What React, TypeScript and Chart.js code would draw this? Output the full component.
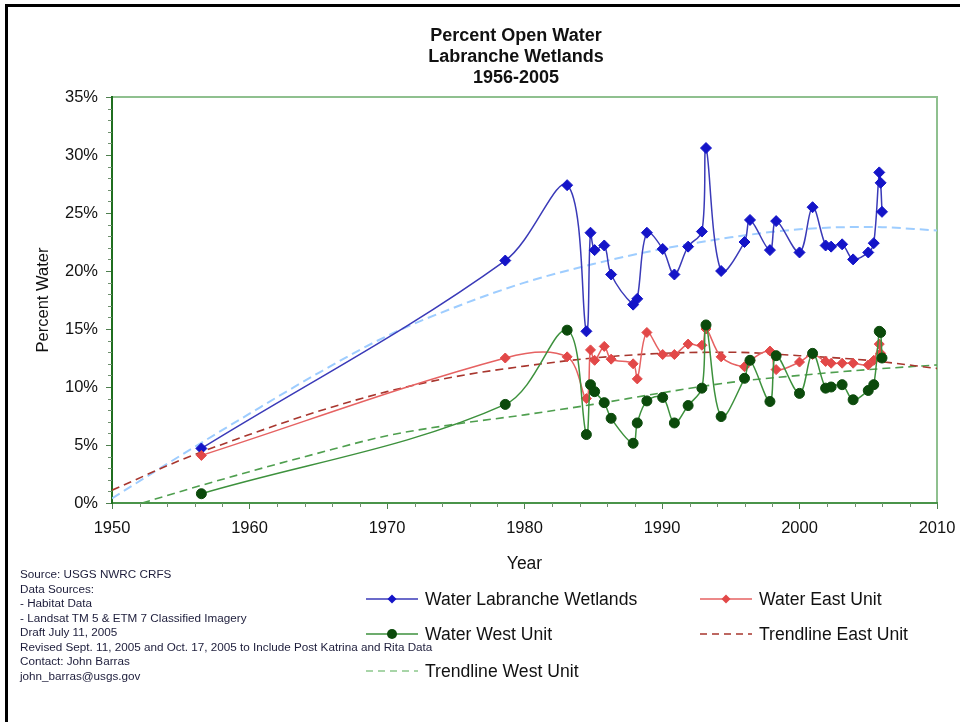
import React, { useEffect, useRef } from 'react';
import { Chart, registerables } from 'chart.js';

Chart.register(...registerables);

const FONT = '"Liberation Sans", Arial, Helvetica, sans-serif';

// Survey dates (decimal years) shared by the three measured series
const years = [1956.5, 1978.6, 1983.1, 1984.5, 1984.8, 1985.1, 1985.8, 1986.3, 1987.9, 1988.2, 1988.9, 1990.05, 1990.9, 1991.9, 1992.9, 1993.2, 1994.3, 1996.0, 1996.4, 1997.85, 1998.3, 2000.0, 2000.95, 2001.9, 2002.3, 2003.1, 2003.9, 2005.0, 2005.4, 2005.8, 2005.9, 2006.0];
const labranche = [4.7, 20.9, 27.4, 14.8, 23.3, 21.8, 22.2, 19.7, 17.1, 17.6, 23.3, 21.9, 19.7, 22.1, 23.4, 30.6, 20.0, 22.5, 24.4, 21.8, 24.3, 21.6, 25.5, 22.2, 22.1, 22.3, 21.0, 21.6, 22.4, 28.5, 27.6, 25.1];
const eastUnit = [4.1, 12.5, 12.6, 9.0, 13.2, 12.3, 13.5, 12.4, 12.0, 10.7, 14.7, 12.8, 12.8, 13.7, 13.6, 15.0, 12.6, 11.75, 12.3, 13.1, 11.5, 12.15, 12.8, 12.2, 12.05, 12.05, 12.05, 11.9, 12.3, 13.7, 12.9, 12.5];
const westUnit = [0.8, 8.5, 14.9, 5.9, 10.2, 9.6, 8.65, 7.3, 5.15, 6.9, 8.8, 9.1, 6.9, 8.4, 9.9, 15.35, 7.45, 10.75, 12.3, 8.75, 12.7, 9.45, 12.9, 9.9, 10.0, 10.2, 8.9, 9.7, 10.2, 14.8, 14.7, 12.5];

// Trendlines
const trendYears = [1950, 1955, 1960, 1965, 1970, 1975, 1980, 1985, 1990, 1995, 2000, 2005, 2010];
const labrancheTrend = [0.4, 4.1, 7.7, 11.2, 14.4, 16.9, 19.0, 20.6, 21.9, 22.9, 23.6, 23.8, 23.5];
const eastTrend = [1.1, 3.7, 5.9, 7.9, 9.6, 10.9, 11.8, 12.5, 12.9, 13.0, 12.7, 12.3, 11.6];
const westTrendYears = [1952.2, 1955, 1960, 1965, 1970, 1975, 1980, 1985, 1990, 1995, 2000, 2005, 2010];
const westTrend = [0, 1.0, 2.7, 4.3, 5.8, 6.8, 7.6, 8.5, 9.5, 10.4, 11.0, 11.5, 11.9];

const xTicks = [1950, 1960, 1970, 1980, 1990, 2000, 2010];
const yTicks = [0, 5, 10, 15, 20, 25, 30, 35];

const titleLines = ['Percent Open Water', 'Labranche Wetlands', '1956-2005'];
const sourceLines = [
  'Source: USGS NWRC CRFS',
  'Data Sources:',
  '- Habitat Data',
  '- Landsat TM 5 & ETM 7 Classified Imagery',
  'Draft July 11, 2005',
  'Revised Sept. 11, 2005 and Oct. 17, 2005  to Include Post Katrina and Rita Data',
  'Contact: John Barras',
  'john_barras@usgs.gov',
];

const C = {
  blueLine: '#3a3ab8',
  blueMark: '#1414c8',
  redLine: '#e66262',
  redMark: '#e24848',
  greenLine: '#3d913d',
  greenMark: '#0b4a0b',
  eastTrend: '#a8362e',
  westTrend: '#4f9f4f',
  westTrendLegend: '#8cc78c',
  blueTrend: '#9ecdff',
};

function LegendItem({ left, top, label, color, marker, dashed, markColor }: any) {
  return (
    <div style={{ position: 'absolute', left, top: top - 11, height: 22, display: 'flex', alignItems: 'center' }}>
      <svg width={54} height={14} style={{ display: 'block' }}>
        <line x1={0} y1={7} x2={52} y2={7} stroke={color} strokeWidth={1.6} strokeDasharray={dashed ? '7 5' : undefined} />
        {marker === 'diamond' && <polygon points="26,2.5 30.5,7 26,11.5 21.5,7" fill={markColor} />}
        {marker === 'circle' && <circle cx={26} cy={7} r={5} fill={markColor} />}
      </svg>
      <span style={{ marginLeft: 5, font: `17.6px ${FONT}`, color: '#111', whiteSpace: 'nowrap' }}>{label}</span>
    </div>
  );
}

export default function App() {
  const ref = useRef<HTMLCanvasElement>(null);

  useEffect(() => {
    const canvas = ref.current;
    if (!canvas) return;
    const pts = (xs: number[], ys: number[]) => xs.map((x, i) => ({ x, y: ys[i] }));

    const framePlugin = {
      id: 'frame',
      beforeDraw(chart: any) {
        const { ctx, chartArea: a } = chart;
        ctx.save();
        ctx.strokeStyle = '#8fc08f';
        ctx.lineWidth = 2;
        ctx.strokeRect(a.left, a.top, a.right - a.left, a.bottom - a.top);
        ctx.restore();
      },
      afterDraw(chart: any) {
        const { ctx, chartArea: a, scales } = chart;
        ctx.save();
        ctx.strokeStyle = '#6f8f6f';
        ctx.lineWidth = 1;
        for (let v = 1; v < 35; v++) {
          if (v % 5 === 0) continue;
          const y = Math.round(scales.y.getPixelForValue(v)) + 0.5;
          ctx.beginPath();
          ctx.moveTo(a.left - 4, y);
          ctx.lineTo(a.left, y);
          ctx.stroke();
        }
        for (let v = 1952; v < 2010; v += 2) {
          if (v % 10 === 0) continue;
          const x = Math.round(scales.x.getPixelForValue(v)) + 0.5;
          ctx.beginPath();
          ctx.moveTo(x, a.bottom);
          ctx.lineTo(x, a.bottom + 4);
          ctx.stroke();
        }
        ctx.restore();
      },
    };

    const chart = new Chart(canvas, {
      type: 'line',
      data: {
        datasets: [
          {
            label: 'Water Labranche Wetlands',
            data: pts(years, labranche),
            borderColor: C.blueLine,
            borderWidth: 1.5,
            pointStyle: 'rectRot',
            pointRadius: 5.5,
            pointBackgroundColor: C.blueMark,
            pointBorderColor: C.blueMark,
            pointBorderWidth: 1,
            tension: 0.35,
            order: 3,
          },
          {
            label: 'Water East Unit',
            data: pts(years, eastUnit),
            borderColor: C.redLine,
            borderWidth: 1.5,
            pointStyle: 'rectRot',
            pointRadius: 5,
            pointBackgroundColor: C.redMark,
            pointBorderColor: C.redMark,
            pointBorderWidth: 1,
            tension: 0.35,
            order: 2,
          },
          {
            label: 'Water West Unit',
            data: pts(years, westUnit),
            borderColor: C.greenLine,
            borderWidth: 1.5,
            pointStyle: 'circle',
            pointRadius: 5,
            pointBackgroundColor: C.greenMark,
            pointBorderColor: C.greenMark,
            pointBorderWidth: 1,
            tension: 0.35,
            order: 1,
          },
          {
            label: 'Trendline East Unit',
            data: pts(trendYears, eastTrend),
            borderColor: C.eastTrend,
            borderWidth: 1.6,
            borderDash: [8, 5],
            pointRadius: 0,
            cubicInterpolationMode: 'monotone',
            order: 5,
          },
          {
            label: 'Trendline West Unit',
            data: pts(westTrendYears, westTrend),
            borderColor: C.westTrend,
            borderWidth: 1.6,
            borderDash: [8, 5],
            pointRadius: 0,
            cubicInterpolationMode: 'monotone',
            order: 6,
          },
          {
            label: 'Trendline Labranche Wetlands',
            data: pts(trendYears, labrancheTrend),
            borderColor: C.blueTrend,
            borderWidth: 2,
            borderDash: [9, 5],
            pointRadius: 0,
            cubicInterpolationMode: 'monotone',
            order: 7,
          },
        ],
      },
      options: {
        responsive: false,
        animation: false,
        events: [],
        layout: { padding: { left: 8, right: 23, top: 97, bottom: 147 } },
        plugins: {
          legend: { display: false },
          title: { display: false },
          tooltip: { enabled: false },
        },
        scales: {
          x: {
            type: 'linear',
            min: 1950,
            max: 2010,
            afterBuildTicks: (scale: any) => {
              scale.ticks = xTicks.map((v) => ({ value: v }));
            },
            afterFit: (scale: any) => {
              scale.height = 72;
              scale.paddingLeft = 0;
              scale.paddingRight = 0;
            },
            ticks: {
              callback: (v: any) => String(v),
              color: '#111',
              font: { family: FONT, size: 16.5 },
              padding: 10,
              maxRotation: 0,
            },
            grid: { drawOnChartArea: false, tickLength: 6, tickColor: '#4f7f4f', tickWidth: 1 },
            border: { color: '#4a944a', width: 2 },
            title: {
              display: true,
              text: 'Year',
              color: '#111',
              font: { family: FONT, size: 17.5 },
              padding: { top: 0, bottom: 0 },
            },
          },
          y: {
            type: 'linear',
            min: 0,
            max: 35,
            afterBuildTicks: (scale: any) => {
              scale.ticks = yTicks.map((v) => ({ value: v }));
            },
            afterFit: (scale: any) => {
              scale.width = 104;
            },
            ticks: {
              callback: (v: any) => `${v}%`,
              color: '#111',
              font: { family: FONT, size: 16.5 },
              padding: 8,
            },
            grid: { drawOnChartArea: false, tickLength: 6, tickColor: '#4f7f4f', tickWidth: 1 },
            border: { color: '#1f6e1f', width: 2 },
            title: {
              display: true,
              text: 'Percent Water',
              color: '#111',
              font: { family: FONT, size: 16.5 },
              padding: { top: 26, bottom: 0 },
            },
          },
        },
      },
      plugins: [framePlugin],
    } as any);

    return () => chart.destroy();
  }, []);

  return (
    <div style={{ position: 'fixed', left: 0, top: 0, width: 960, height: 722, background: '#fff', overflow: 'hidden' }}>
      <canvas ref={ref} width={960} height={722} style={{ position: 'absolute', left: 0, top: 0, width: 960, height: 722 }} />
      <div style={{ position: 'absolute', left: 5, top: 4, width: 960, height: 3, background: '#000' }} />
      <div style={{ position: 'absolute', left: 5, top: 4, width: 3, height: 722, background: '#000' }} />
      <div style={{ position: 'absolute', left: 316, top: 25, width: 400, textAlign: 'center', font: `bold 18px ${FONT}`, lineHeight: '21px', color: '#111' }}>
        {titleLines.map((t) => (
          <div key={t}>{t}</div>
        ))}
      </div>
      <div style={{ position: 'absolute', left: 20, top: 567, font: `11.7px ${FONT}`, lineHeight: '14.5px', color: '#1c1c3a', whiteSpace: 'nowrap' }}>
        {sourceLines.map((t) => (
          <div key={t}>{t}</div>
        ))}
      </div>
      <LegendItem left={366} top={599} label="Water Labranche Wetlands" color={C.blueLine} marker="diamond" markColor={C.blueMark} />
      <LegendItem left={700} top={599} label="Water East Unit" color={C.redLine} marker="diamond" markColor={C.redMark} />
      <LegendItem left={366} top={634} label="Water West Unit" color={C.greenLine} marker="circle" markColor={C.greenMark} />
      <LegendItem left={700} top={634} label="Trendline East Unit" color={C.eastTrend} dashed />
      <LegendItem left={366} top={671} label="Trendline West Unit" color={C.westTrendLegend} dashed />
    </div>
  );
}
